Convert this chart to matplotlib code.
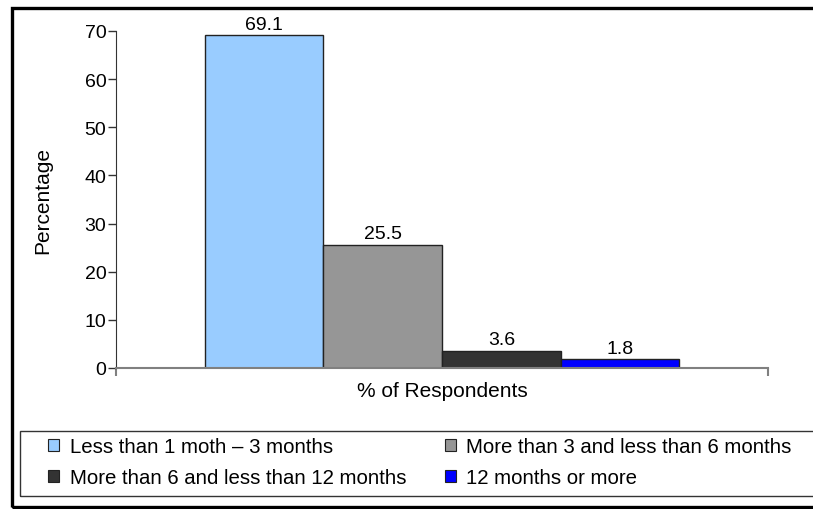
import matplotlib.pyplot as plt
from matplotlib.patches import Rectangle, Patch

plt.rcParams['font.family'] = ['Liberation Sans', 'DejaVu Sans']

categories = ["Less than 1 moth \u2013 3 months",
              "More than 3 and less than 6 months",
              "More than 6 and less than 12 months",
              "12 months or more"]
values = [69.1, 25.5, 3.6, 1.8]
colors = ["#99CCFF", "#969696", "#333333", "#0000FF"]
yticks = [0, 10, 20, 30, 40, 50, 60, 70]

fig = plt.figure(figsize=(8.13, 5.10), dpi=100)
ax = fig.add_axes([116 / 813, 1 - 369 / 510, (768 - 116) / 813, (369 - 32) / 510])

width = 0.182
offsets = [(i - 1.5) * width for i in range(len(values))]
for off, v, c in zip(offsets, values, colors):
    b = ax.bar(off, v, width=width, color=c, edgecolor="#222222", linewidth=1.0)
    ax.bar_label(b, labels=[f"{v:.1f}"], padding=2, fontsize=14)

ax.set_xlim(-0.5, 0.5)
ax.set_ylim(0, 70)
ax.set_yticks(yticks)
ax.set_xticks([-0.5, 0.5])
ax.set_xticklabels([])
ax.tick_params(axis='y', labelsize=14, length=6, width=1, color="#333333", pad=1)
ax.tick_params(axis='x', length=6, width=1.5, color="#808080")
for s in ['top', 'right']:
    ax.spines[s].set_visible(False)
ax.spines['left'].set_color("#333333")
ax.spines['bottom'].set_color("#808080")
ax.spines['bottom'].set_linewidth(1.5)
ax.set_xlabel("% of Respondents", fontsize=15, labelpad=0)
ax.set_ylabel("Percentage", fontsize=15)
ax.yaxis.set_label_coords(-0.098, 0.5)

# legend box
fig.patches.append(Rectangle((20 / 813, 1 - 497 / 510), 900 / 813, 65 / 510,
                             transform=fig.transFigure, fill=False,
                             edgecolor="#333333", linewidth=1.0))
# row-wise filling: matplotlib fills columns first, so interleave
order = [0, 2, 1, 3]
handles = [Patch(facecolor=colors[i], edgecolor="#222222", linewidth=0.8) for i in order]
labels = [categories[i] for i in order]
fig.legend(handles, labels, ncol=2, frameon=False, fontsize=14.7,
           loc='upper left', bbox_to_anchor=(40 / 813, 1 - 430 / 510),
           handlelength=0.55, handleheight=0.55, handletextpad=0.5,
           columnspacing=1.9, labelspacing=0.6, borderaxespad=0)

# outer frame
fig.patches.append(Rectangle((11.5 / 813, 1 - 507.5 / 510), 900 / 813, 499 / 510,
                             transform=fig.transFigure, fill=False,
                             edgecolor="black", linewidth=2.4))

plt.savefig("out.png", dpi=100)
